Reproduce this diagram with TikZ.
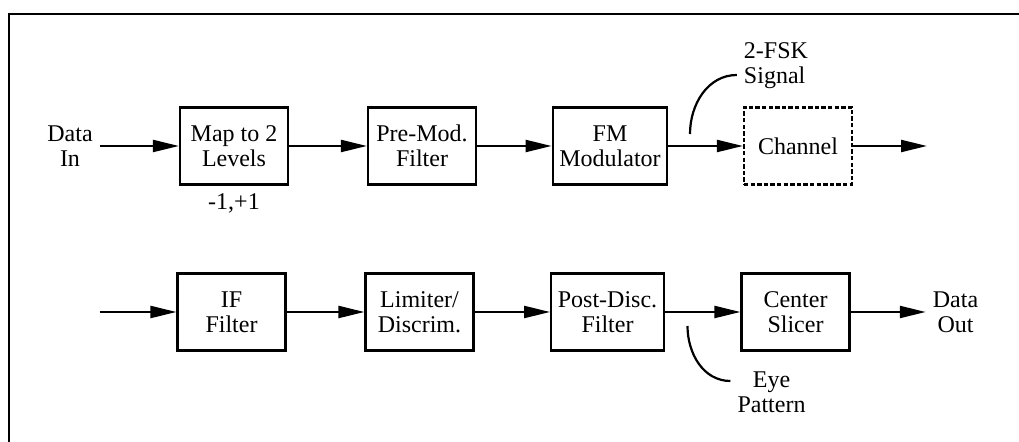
\documentclass[tikz,border=0pt]{standalone}
\usepackage{fontspec}
\setmainfont{Liberation Serif}
\usetikzlibrary{arrows.meta}
\tikzstyle{block} = [rectangle, minimum width=54pt, minimum height=38.5pt, text centered, align=center, draw=black, line width=1.1pt]
\tikzstyle{dashblock} = [block, dash pattern=on 2.2pt off 1.1pt]
\tikzstyle{label} = [align=center]
\tikzstyle{arrow} = [line width=1.1pt, -{Triangle[length=13pt, width=6pt]}]
\tikzstyle{tap} = [line width=1.1pt]

\begin{document}
\begin{tikzpicture}[x=0.5pt, y=-0.5pt, node distance=94pt, font=\fontsize{12}{12.5}\selectfont]

    \useasboundingbox (0,0) rectangle (1019,442);
    \draw [line width=1.1pt] (1019,14) -- (9,14) -- (9,442);

    % transmitter
    \node (map) [block] at (234,146) {Map to 2\\Levels};
    \node (premod) [block, right of=map] {Pre-Mod.\\Filter};
    \node (fm) [block, right of=premod] {FM\\Modulator};
    \node (channel) [dashblock, right of=fm] {Channel};
    \node (data_in) [label, left of=map, node distance=82pt] {Data\\In};
    \node (levels) [below of=map, node distance=28.5pt] {-1,+1};
    \node (ch_out) [coordinate, right of=channel, node distance=64.5pt] {};
    \node (fsk) [label, align=left, above of=channel, node distance=40pt, xshift=-11pt] {2-FSK\\Signal};
    \node (fsk_tap) [coordinate, right of=fm, node distance=40pt, yshift=6pt] {};

    % receiver
    \node (iff) [block] at (231.5,312) {IF\\Filter};
    \node (limiter) [block, right of=iff] {Limiter/\\Discrim.};
    \node (postdisc) [block, right of=limiter] {Post-Disc.\\Filter};
    \node (slicer) [block, right of=postdisc] {Center\\Slicer};
    \node (rx_in) [coordinate, left of=iff, node distance=66pt] {};
    \node (data_out) [label, right of=slicer, node distance=80pt] {Data\\Out};
    \node (eye) [label, below of=slicer, node distance=40pt, xshift=-12pt] {Eye\\Pattern};
    \node (eye_tap) [coordinate, right of=postdisc, node distance=40pt, yshift=-7pt] {};

    \draw [arrow] (data_in) -- (map);
    \draw [arrow] (map) -- (premod);
    \draw [arrow] (premod) -- (fm);
    \draw [arrow] (fm) -- (channel);
    \draw [arrow] (channel) -- (ch_out);
    \draw [tap] (fsk_tap) to[out=90, in=180] ([yshift=-4.5pt]fsk.west);

    \draw [arrow] (rx_in) -- (iff);
    \draw [arrow] (iff) -- (limiter);
    \draw [arrow] (limiter) -- (postdisc);
    \draw [arrow] (postdisc) -- (slicer);
    \draw [arrow] (slicer) -- (data_out);
    \draw [tap] (eye_tap) to[out=-90, in=180] ([yshift=5.5pt]eye.west);

\end{tikzpicture}
\end{document}
